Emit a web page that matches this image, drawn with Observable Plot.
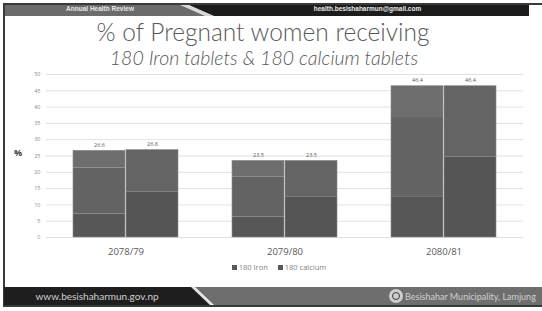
<!DOCTYPE html>
<html>
<head>
<meta charset="utf-8">
<script src="https://cdn.jsdelivr.net/npm/d3@7"></script>
<script src="https://cdn.jsdelivr.net/npm/@observablehq/plot@0.6"></script>
<style>
  html, body { margin: 0; padding: 0; background: #fff; }
  #page { position: relative; width: 542px; height: 311px; overflow: hidden; background: #fff; font-family: Lato, "Open Sans", sans-serif; }
  .abs { position: absolute; }
  #topline { left: 3px; top: 3px; width: 539px; height: 2px; background: #3a3a3a; }
  #hdrGray { left: 5px; top: 5px; width: 200px; height: 11px; background: #6b6b6b; }
  #hdrStripe { left: 180px; top: 5px; width: 40px; height: 11px; background: #d8d8d8; clip-path: polygon(0 0, 9px 0, 34px 100%, 25px 100%); }
  #hdrDark { left: 185px; top: 5px; width: 344px; height: 11px; background: #1c1c1c; clip-path: polygon(4px 0, 100% 0, 100% 100%, 28px 100%); }
  #hdrLeftText { left: 5px; top: 5px; width: 190px; height: 11px; line-height: 11px; text-align: center; color: #e8e8e8; font: bold 6.5px Arial, "Liberation Sans", sans-serif; }
  #hdrRightText { left: 270px; top: 5px; width: 195px; height: 11px; line-height: 11px; text-align: center; color: #e8e8e8; font: bold 6.5px Arial, "Liberation Sans", sans-serif; }
  #leftline { left: 3px; top: 3px; width: 2px; height: 304px; background: #3a3a3a; }
  #title { left: 0; top: 18px; width: 526px; text-align: center; color: #595959; font-family: Lato, sans-serif; font-weight: 300; font-size: 24.5px; line-height: 28px; white-space: nowrap; }
  #subtitle { left: 0; top: 46px; width: 528px; text-align: center; color: #595959; font-family: Lato, sans-serif; font-weight: 300; font-style: italic; font-size: 19.5px; line-height: 23px; white-space: nowrap; }
  #chart { left: 0; top: 60px; }
  #ylab { left: 14px; top: 146px; font-weight: bold; font-size: 9px; color: #404040; font-family: "Open Sans", sans-serif; }
  #legend { left: 0; top: 262px; width: 558px; text-align: center; font-size: 7.5px; color: #7f7f7f; font-family: "Open Sans", sans-serif; white-space: nowrap; }
  #legend span.sw { display: inline-block; width: 5px; height: 5px; background: #595959; margin-right: 2px; vertical-align: 0px; }
  #legend span.it { margin: 0 5px; }
  #ftrDark { left: 4px; top: 287px; width: 230px; height: 19px; background: #1e1e1e; clip-path: polygon(0 0, 188px 0, 208px 100%, 0 100%); }
  #ftrStripe { left: 185px; top: 287px; width: 40px; height: 19px; background: #e0e0e0; clip-path: polygon(6px 0, 9px 0, 29px 100%, 26px 100%); }
  #ftrGray { left: 190px; top: 287px; width: 352px; height: 19px; background: #6e6e6e; clip-path: polygon(5px 0, 100% 0, 100% 100%, 25px 100%); }
  #ftrLeftText { left: 4px; top: 287px; width: 186px; height: 19px; line-height: 19px; text-align: center; color: #cfcfcf; font-size: 10px; font-family: Lato, sans-serif; }
  #ftrRightText { left: 405px; top: 287px; width: 137px; height: 19px; line-height: 19px; text-align: left; color: #d0d0d0; font-size: 9px; font-family: Lato, sans-serif; white-space: nowrap; }
  #logo { left: 389px; top: 289px; width: 14px; height: 14px; border-radius: 50%; background: #cfcfcf; }
  #logoIn { left: 392px; top: 292px; width: 8px; height: 8px; border-radius: 50%; border: 1.5px solid #3a3a3a; box-sizing: border-box; }
  #botline { left: 3px; top: 305px; width: 539px; height: 2px; background: #3a3a3a; }
</style>
</head>
<body>
<div id="page">
  <div id="topline" class="abs"></div>
  <div id="hdrGray" class="abs"></div>
  <div id="hdrDark" class="abs"></div>
  <div id="hdrStripe" class="abs"></div>
  <div id="hdrLeftText" class="abs">Annual Health Review</div>
  <div id="hdrRightText" class="abs">health.besishaharmun@gmail.com</div>
  <div id="leftline" class="abs"></div>
  <div id="title" class="abs">% of Pregnant women receiving</div>
  <div id="subtitle" class="abs">180 Iron tablets &amp; 180 calcium tablets</div>
  <div id="chart" class="abs"></div>
  <div id="ylab" class="abs">%</div>
  <div id="legend" class="abs"></div>
  <div id="ftrDark" class="abs"></div>
  <div id="ftrGray" class="abs"></div>
  <div id="ftrStripe" class="abs"></div>
  <div id="ftrLeftText" class="abs">www.besishaharmun.gov.np</div>
  <div id="logo" class="abs"></div>
  <div id="logoIn" class="abs"></div>
  <div id="ftrRightText" class="abs">Besishahar Municipality, Lamjung</div>
  <div id="botline" class="abs"></div>
</div>
<script>
// ---- data ----
const categories = ["2078/79", "2079/80", "2080/81"];
const series = ["180 Iron", "180 calcium"];
const ironTotal = [26.6, 23.5, 46.4];
const calciumTotal = [26.8, 23.5, 46.4];
// internal shading bands visible inside the bars
const ironLow = [7.2, 6.3, 12.3];
const ironMid = [21.3, 18.6, 36.8];
const calciumLow = [14.0, 12.5, 24.7];
const yTicks = [0, 5, 10, 15, 20, 25, 30, 35, 40, 45, 50];

// ---- styles ----
const ironShades = ["#575757", "#636363", "#6e6e6e"];
const calciumShades = ["#555555", "#646464"];

const segments = [];
const totals = [];
categories.forEach((c, i) => {
  const ib = [0, ironLow[i], ironMid[i], ironTotal[i]];
  for (let k = 0; k < 3; k++) segments.push({cat: c, series: series[0], y1: ib[k], y2: ib[k + 1], fill: ironShades[k]});
  const cb = [0, calciumLow[i], calciumTotal[i]];
  for (let k = 0; k < 2; k++) segments.push({cat: c, series: series[1], y1: cb[k], y2: cb[k + 1], fill: calciumShades[k]});
  totals.push({cat: c, series: series[0], value: ironTotal[i]});
  totals.push({cat: c, series: series[1], value: calciumTotal[i]});
});

const chart = Plot.plot({
  width: 542,
  height: 202,
  marginLeft: 46,
  marginRight: 19,
  marginTop: 14,
  marginBottom: 25,
  style: {fontFamily: "'Open Sans', sans-serif", background: "transparent", overflow: "visible"},
  fx: {domain: categories, padding: 0, label: null},
  x: {domain: series, paddingInner: 0.02, paddingOuter: 0.49, axis: null},
  y: {domain: [0, 50], label: null},
  color: {type: "identity"},
  marks: [
    Plot.gridY(yTicks, {stroke: "#d9d9d9", strokeOpacity: 1, strokeWidth: 0.8}),
    Plot.axisY(yTicks, {tickSize: 0, tickPadding: 6, fontSize: 5.5, fill: "#8c8c8c", label: null}),
    Plot.rectY(segments, {fx: "cat", x: "series", y1: "y1", y2: "y2", fill: "fill"}),
    Plot.rectY(totals, {fx: "cat", x: "series", y: "value", fill: "none", stroke: "#8a8a8a", strokeWidth: 0.6}),
    Plot.text(totals, {fx: "cat", x: "series", y: "value", text: d => d.value.toFixed(1), dy: -6, fontSize: 5.5, fill: "#595959"}),
    Plot.axisFx({anchor: "bottom", tickSize: 0, tickPadding: 11, fontSize: 9.5, fill: "#595959", label: null})
  ]
});
document.getElementById("chart").appendChild(chart);

// legend
const legend = document.getElementById("legend");
series.forEach(s => {
  const it = document.createElement("span");
  it.className = "it";
  it.innerHTML = '<span class="sw"></span>' + s;
  legend.appendChild(it);
});
</script>
</body>
</html>
